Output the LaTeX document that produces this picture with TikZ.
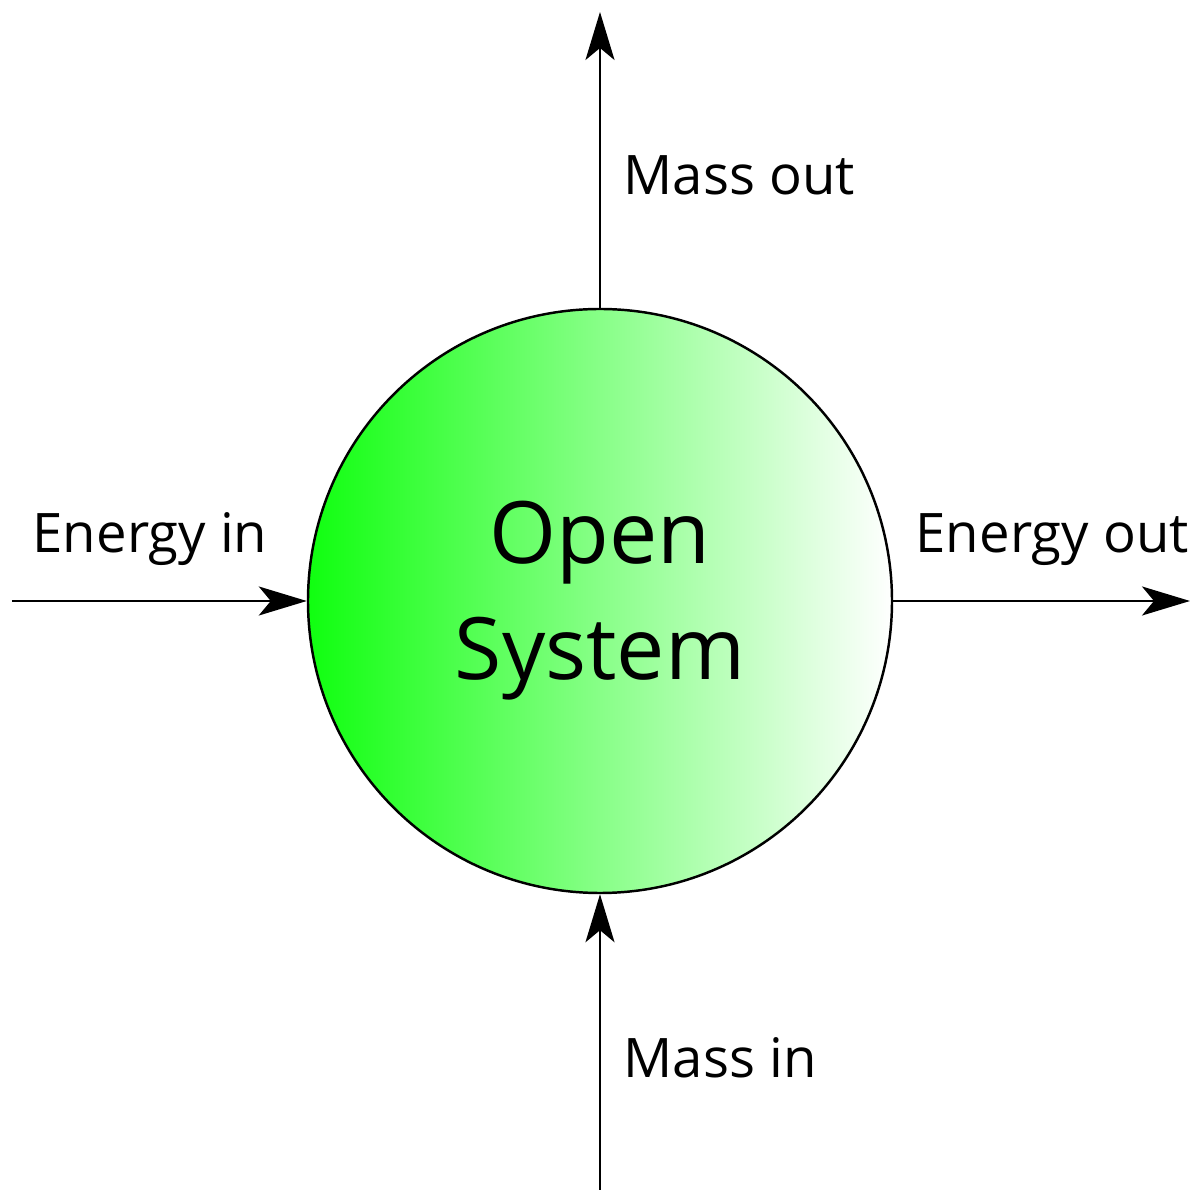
\documentclass[tikz,border=0pt]{standalone}
\usepackage{fontspec}
\setmainfont{Open Sans}
\usepackage{tikz}
\usetikzlibrary{arrows.meta,positioning}

\definecolor{sysgreen}{RGB}{16,255,16}

\begin{document}
\begin{tikzpicture}[
        flow/.style={-{Stealth[length=4.8mm,width=2.9mm,inset=1.2mm]}, line width=0.7pt},
        lbl/.style={anchor=base west, inner sep=0pt, font=\fontsize{15.5}{18}\selectfont}
    ]
        \useasboundingbox (0,0) rectangle (12,12);
        \node[circle, draw, line width=0.7pt, minimum size=5.84cm, inner sep=0pt,
              left color=sysgreen, right color=white,
              align=center, font=\fontsize{24.5}{33}\selectfont] (sys) at (6,5.99) {Open\\System};

        \coordinate (ein) at (0.12,5.99);
        \coordinate (eout) at (11.9,5.99);
        \coordinate (mout) at (6,11.88);
        \coordinate (min) at (6,0.1);

        \draw[flow] (ein) -- (sys.west);
        \draw[flow] (sys.east) -- (eout);
        \draw[flow] (sys.north) -- (mout);
        \draw[flow] (min) -- (sys.south);

        \node[lbl] (einlbl) at (0.32,6.47) {Energy in};
        \node[lbl] (eoutlbl) at (9.15,6.47) {Energy out};
        \node[lbl] (moutlbl) at (6.23,10.05) {Mass out};
        \node[lbl] (minlbl) at (6.23,1.23) {Mass in};
    \end{tikzpicture}
\end{document}
